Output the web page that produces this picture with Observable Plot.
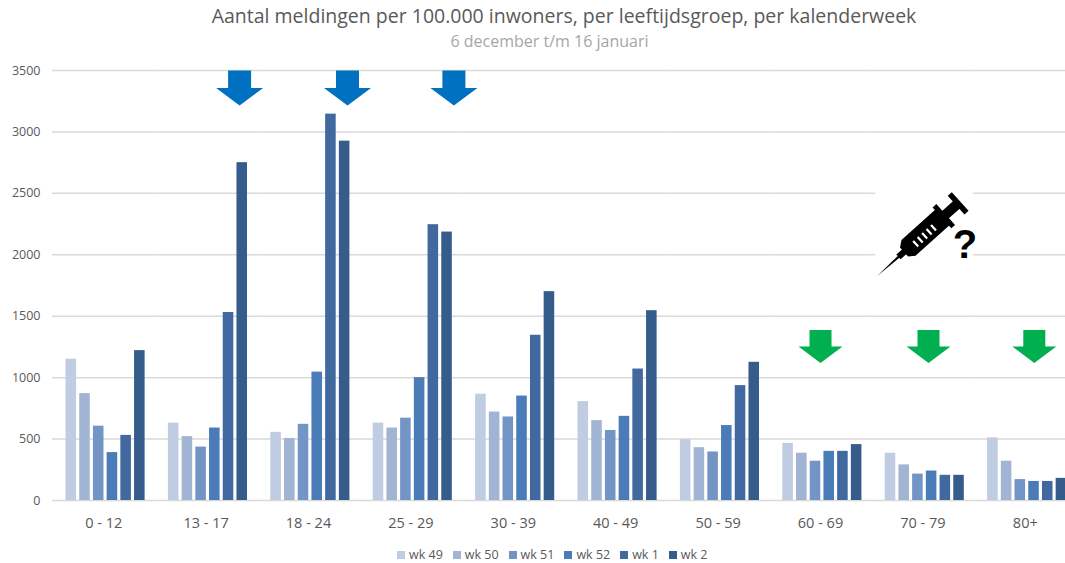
<!DOCTYPE html>
<html><head><meta charset="utf-8">
<script src="https://cdn.jsdelivr.net/npm/d3@7"></script>
<script src="https://cdn.jsdelivr.net/npm/@observablehq/plot@0.6"></script>
<style>
html,body{margin:0;padding:0;background:#fff;overflow:hidden;width:1065px;height:563px}
body{font-family:"Open Sans",sans-serif}
#t{height:31px;line-height:32px;text-align:center;font-size:19.5px;color:#595959;padding-left:63px;box-sizing:border-box;white-space:nowrap}
#s{height:24px;line-height:20px;text-align:center;font-size:16px;color:#a6a6a6;padding-left:34px;box-sizing:border-box}
#l{display:flex;gap:10px;padding-left:397px;height:33px;align-items:center;font-size:12.5px;color:#595959;margin-top:-7px}
#l span{display:inline-flex;align-items:center;gap:4px}
#l i{width:8px;height:8px;display:inline-block}
svg{display:block}
</style></head><body>
<div id="t">Aantal meldingen per 100.000 inwoners, per leeftijdsgroep, per kalenderweek</div>
<div id="s">6 december t/m 16 januari</div>
<div id="c"></div>
<div id="l"></div>
<script>
const groups = ["0 - 12","13 - 17","18 - 24","25 - 29","30 - 39","40 - 49","50 - 59","60 - 69","70 - 79","80+"];
const weeks = ["wk 49","wk 50","wk 51","wk 52","wk 1","wk 2"];
const wk49 = [1150,630,555,630,865,805,495,465,385,510];
const wk50 = [870,520,505,590,720,650,430,385,290,320];
const wk51 = [605,435,620,670,680,570,395,320,215,170];
const wk52 = [390,590,1045,1000,850,685,610,400,240,155];
const wk1 = [530,1530,3145,2245,1345,1070,935,400,205,155];
const wk2 = [1220,2750,2925,2185,1700,1545,1125,455,205,180];
const colors = ["#c0cce1","#a2b4d4","#7395c6","#4a7db7","#41699f","#365c8c"];
const yTicks = [0,500,1000,1500,2000,2500,3000,3500];
const series = [wk49,wk50,wk51,wk52,wk1,wk2];
const rows = series.flatMap((vals,i)=>vals.map((v,j)=>({group:groups[j],week:weeks[i],value:v})));

function poly(c,pts){pts.forEach((p,i)=>i?c.lineTo(p[0],p[1]):c.moveTo(p[0],p[1]));c.closePath();}
const arrowSym=(w,sw,top,sh,tip)=>({draw(c){poly(c,[[-sw,top],[sw,top],[sw,sh],[w,sh],[0,tip],[-w,sh],[-sw,sh]]);}});
const blueArrow=arrowSym(23.5,11.5,-17.5,0,17.5);
const greenArrow=arrowSym(22,11,-16.5,0,16.5);
const syringe={draw(c){
  const ux=0.744,uy=-0.669,vx=0.669,vy=0.744;
  const P=(u,v)=>[u*ux+v*vx,u*uy+v*vy];
  const box=(a,b,h)=>poly(c,[P(a,-h),P(b,-h),P(b,h),P(a,h)]);
  poly(c,[P(-56,0),P(-27,-1.3),P(-27,1.3)]);
  box(-27.5,-19,3.2);
  poly(c,[P(-20,-6),P(-14,-10.5),P(32,-10.5),P(32,10.5),P(-14,10.5),P(-20,6)]);
  box(31,36,14);
  box(35,51,5);
  box(50,55.5,12.5);
  // white graduation slits, opposite winding
  for(const u of [-7,-1,5,11,17]){
    poly(c,[P(u,5.5),P(u+2.2,5.5),P(u+2.2,-2),P(u,-2)]);
  }
}};
const patch={draw(c){poly(c,[[-48.5,-53],[48.5,-53],[48.5,53],[-48.5,53]]);}};

const annot=(group,value,dx,symbol,fill)=>Plot.dot([{group,value}],{fx:"group",y:"value",dx,symbol,fill,stroke:null,r:10});

const chart=Plot.plot({
  width:1065,height:490,marginLeft:52,marginRight:-11,marginTop:15,marginBottom:45,
  style:{fontFamily:"'Open Sans',sans-serif",background:"transparent"},
  fx:{domain:groups,padding:0,label:null,axis:null,round:false},
  x:{domain:weeks,axis:null,paddingInner:0.23,paddingOuter:0.85,align:0.58,round:false},
  y:{domain:[0,3500],axis:null,label:null},
  color:{domain:weeks,range:colors},
  marks:[
    Plot.ruleY(yTicks,{stroke:"#d9d9d9",strokeWidth:1.5}),
    Plot.barY(rows,{fx:"group",x:"week",y:"value",fill:"week"}),
    Plot.axisY({ticks:yTicks,tickSize:0,tickPadding:12,label:null,fontSize:12.5,color:"#595959",tickFormat:d=>String(d)}),
    Plot.axisFx({anchor:"bottom",tickSize:0,tickPadding:17,label:null,fontSize:14.5,color:"#595959"}),
    annot("70 - 79",2170,1,patch,"#fff"),
    annot("70 - 79",2132,-4,syringe,"#000"),
    annot("13 - 17",3357,33.5,blueArrow,"#0070c0"),
    annot("18 - 24",3357,39,blueArrow,"#0070c0"),
    annot("25 - 29",3357,43,blueArrow,"#0070c0"),
    annot("60 - 69",1253,0,greenArrow,"#00b050"),
    annot("70 - 79",1253,5.6,greenArrow,"#00b050"),
    annot("80+",1253,9,greenArrow,"#00b050"),
    Plot.text([{group:"70 - 79",value:2075}],{fx:"group",y:"value",dx:42,text:()=>"?",fontSize:40,fontWeight:700,fontFamily:"'Liberation Sans',sans-serif",fill:"#000"})
  ]
});
document.getElementById("c").appendChild(chart);
const l=document.getElementById("l");
weeks.forEach((w,i)=>{const s=document.createElement("span");const b=document.createElement("i");b.style.background=colors[i];s.appendChild(b);s.appendChild(document.createTextNode(w));l.appendChild(s);});
</script>
</body></html>
